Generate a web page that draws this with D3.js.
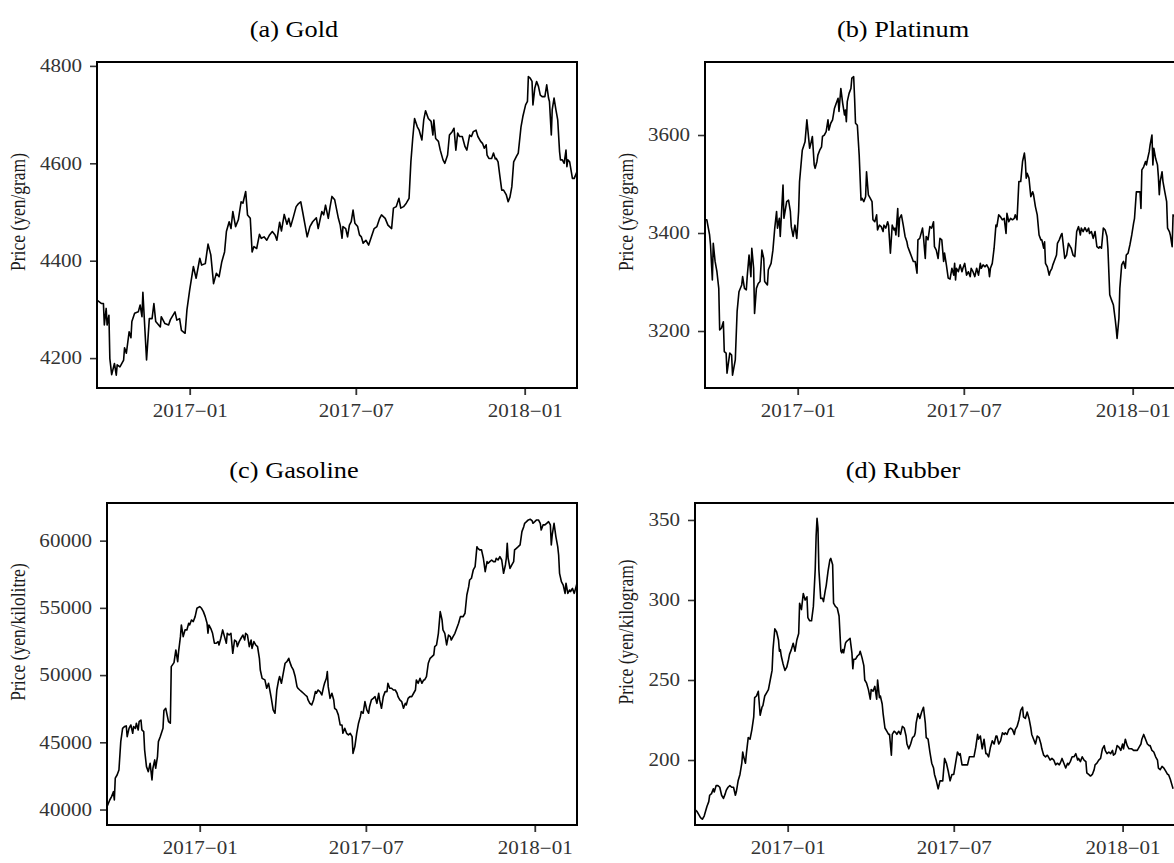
<!DOCTYPE html>
<html>
<head>
<meta charset="utf-8">
<script src="https://cdn.jsdelivr.net/npm/d3@7"></script>
<style>
  html, body { margin: 0; padding: 0; background: #fff; overflow: hidden; }
  svg { display: block; overflow: hidden; font-family: "Liberation Serif", "Times New Roman", Times, serif; }
</style>
</head>
<body>
<svg id="chart" width="1174" height="863"></svg>
<script>
// Daily closing prices, keyed by day offset from the first day of the window.
const startDate = Date.UTC(2016, 8, 22);   // 2016-09-22

const goldDays = [0,5,7,8,10,11,13,14,16,19,21,22,25,29,30,32,35,37,38,41,45,47,49,50,54,57,60,62,64,69,70,74,78,80,85,87,90,92,96,98,101,105,108,112,114,118,121,124,127,130,133,136,139,141,144,146,148,151,154,157,159,162,164,167,169,171,174,177,179,182,185,188,191,194,196,199,201,204,207,209,211,214,217,219,222,224,227,229,232,235,237,239,241,243,245,247,249,252,254,256,259,261,
  263,265,267,268,271,273,275,277,279,281,284,286,288,290,293,296,299,302,305,308,310,314,317,321,323,326,329,331,334,337,340,342,344,346,349,351,354,356,358,361,364,366,367,369,372,374,377,379,382,384,387,389,391,393,395,398,401,403,406,408,410,413,415,418,420,422,424,425,427,430,432,434,435,437,439,441,443,446,448,450,452,454,457,459,462,464,467,469,470,472,474,475,477,479,481,483,485,488,490,492,493,495,496,498,500,502,504,505,507,509,511,512,513,515,518,520,523];
const goldPrice = [4319,4312,4312,4268,4302,4268,4288,4199,4166,4189,4165,4186,4182,4196,4221,4210,4254,4242,4275,4292,4295,4309,4285,4335,4196,4281,4281,4312,4275,4264,4285,4271,4268,4279,4295,4278,4281,4257,4251,4299,4340,4388,4364,4405,4391,4394,4434,4412,4353,4374,4367,4398,4418,4460,4480,4466,4501,4470,4484,4521,4518,4542,4494,4487,4418,4429,4425,4454,4446,4449,4442,4453,4460,4453,4442,4479,4461,4495,4475,4487,4470,4490,4511,4516,4521,4501,4470,4449,4470,4480,4484,4488,4466,4484,4501,4494,4514,4487,4511,4532,4525,4506,
  4487,4473,4446,4470,4466,4449,4473,4480,4504,4477,4470,4453,4449,4436,4442,4432,4449,4466,4470,4487,4494,4487,4473,4466,4508,4511,4528,4508,4511,4518,4528,4603,4651,4692,4675,4668,4648,4689,4708,4692,4686,4658,4689,4651,4645,4627,4607,4600,4617,4658,4665,4672,4627,4662,4655,4655,4634,4627,4658,4655,4665,4668,4655,4645,4641,4631,4638,4617,4610,4610,4621,4609,4610,4603,4573,4545,4545,4535,4521,4531,4552,4603,4614,4621,4675,4696,4720,4727,4778,4775,4768,4720,4754,4768,4758,4740,4737,4737,4761,4734,4727,4658,4710,4734,4710,4689,4624,4607,4607,4600,4627,4593,4607,4603,4569,4569,4583];

const platinumDays = [0,2,5,6,8,9,11,13,15,16,18,20,21,23,24,27,29,30,33,35,37,40,41,43,45,46,48,50,51,53,54,56,58,60,62,64,65,68,69,72,74,76,78,79,81,82,85,86,89,91,93,94,96,98,100,102,103,106,109,111,114,115,117,119,120,122,123,125,127,128,130,132,134,135,137,139,141,143,145,146,148,150,152,153,154,155,157,159,160,162,163,164,166,168,170,171,173,175,176,178,180,182,183,185,187,188,190,192,194,195,197,199,200,202,204,206,207,208,210,211,212,214,216,218,220,221,223,225,227,229,231,232,234,237,238,240,241,243,
  245,247,249,250,252,254,256,258,260,261,263,265,267,269,271,272,273,274,276,278,280,281,283,285,287,289,290,292,294,296,298,300,301,303,305,307,309,310,311,313,315,317,318,320,322,324,326,328,329,331,333,335,337,338,340,342,344,346,348,349,350,351,353,355,357,358,360,362,364,366,367,369,370,371,373,375,376,378,379,381,383,384,386,388,389,390,392,394,396,398,399,401,403,405,407,409,410,412,414,416,418,419,421,423,425,427,429,430,432,434,436,438,439,441,443,445,447,448,449,451,452,454,456,458,459,461,463,465,467,468,470,472,474,475,476,478,480,481,482,484,485,487,488,489,491,493,494,495,496,498,499,501,503,504,506,507,509,510,511];
const platinumPrice = [3427,3427,3396,3376,3304,3379,3342,3321,3287,3202,3206,3219,3158,3155,3114,3155,3151,3110,3141,3240,3280,3294,3311,3287,3284,3311,3355,3311,3369,3328,3236,3287,3297,3301,3365,3348,3301,3294,3325,3338,3365,3410,3444,3410,3430,3393,3498,3430,3464,3467,3444,3413,3393,3416,3389,3444,3505,3569,3586,3631,3573,3580,3597,3539,3532,3546,3559,3569,3576,3597,3600,3607,3631,3610,3624,3631,3654,3665,3675,3648,3695,3665,3641,3651,3627,3668,3685,3695,3716,3719,3675,3624,3620,3559,3467,3471,3464,3474,3525,3478,3471,3464,3427,3423,3437,3406,3416,3413,3403,3416,3410,3423,3416,3359,3416,3406,3410,3396,3450,3393,3430,3437,3416,3393,3382,3372,3362,3352,3342,3342,3318,3386,3389,3410,3393,3348,3393,3386,
  3413,3410,3423,3372,3365,3348,3389,3386,3342,3359,3335,3308,3306,3328,3314,3338,3304,3328,3321,3335,3321,3328,3338,3314,3321,3311,3328,3321,3311,3328,3314,3338,3328,3335,3331,3335,3328,3311,3328,3338,3369,3416,3413,3437,3433,3427,3430,3399,3440,3423,3430,3427,3430,3437,3427,3505,3505,3546,3563,3546,3512,3522,3512,3474,3484,3478,3454,3437,3396,3386,3386,3369,3382,3338,3331,3314,3321,3328,3335,3345,3355,3379,3386,3396,3399,3382,3348,3355,3379,3372,3369,3355,3352,3403,3413,3396,3410,3403,3411,3403,3410,3399,3403,3389,3403,3372,3369,3372,3369,3410,3406,3393,3369,3274,3263,3253,3223,3206,3185,3226,3287,3335,3342,3328,3355,3359,3376,3396,3420,3430,3484,3484,3484,3450,3529,3535,3546,3539,3549,3566,3580,3600,3539,3573,3552,3539,3515,3478,3505,3525,3505,3484,3464,3410,3403,3396,3372,3437,3433];

const gasolineDays = [0,3,5,7,8,9,11,13,15,17,19,21,22,24,26,28,29,31,32,34,35,37,38,40,41,43,45,47,49,50,52,53,55,56,58,61,62,64,67,69,70,73,75,77,78,80,81,83,85,87,89,90,92,94,96,98,101,103,105,107,109,110,111,113,115,117,119,121,122,124,126,128,130,131,133,135,137,139,141,142,144,146,148,150,151,153,155,157,158,160,162,164,166,167,169,172,174,176,178,179,181,183,185,187,188,190,192,194,196,198,199,201,203,205,207,208,210,212,214,216,218,219,221,223,225,227,228,230,232,234,236,237,239,240,241,243,245,247,248,250,252,254,
  256,257,259,261,263,265,267,268,270,272,274,276,277,279,281,283,285,286,288,290,292,294,296,297,299,301,303,305,306,308,310,312,314,316,317,319,321,323,325,326,328,330,332,334,336,337,339,341,343,345,346,348,350,352,354,356,357,359,361,363,365,366,368,370,372,374,375,377,379,381,383,385,386,388,390,392,394,395,397,399,401,403,404,406,408,410,412,414,415,417,419,421,423,424,426,428,430,432,434,435,436,437,439,441,443,444,446,448,450,452,454,455,457,459,461,463,464,466,468,470,472,473,475,477,479,481,483,484,485,487,489,491,492,493,495,497,499,500,502,504,505,507,509,511,512];
const gasolinePrice = [40220,40710,40960,41330,40710,42330,42570,42940,45050,46040,46170,46220,45420,46040,46290,45670,46170,46040,46420,45920,46540,46660,45920,45800,44430,43190,42820,43440,42200,43070,43690,43070,43940,45050,45420,46040,47360,47530,46540,46420,50630,50930,51870,51000,51750,52860,53730,52860,53360,53360,53850,53730,54100,53980,54350,54970,55090,54970,54720,54350,53850,53110,53730,53480,53110,52370,52370,52490,52240,52740,53360,52860,52370,53110,52980,53110,51620,52610,52490,52120,52490,52740,52980,52610,53110,52980,52120,52610,51990,52490,52240,52120,51250,50380,49760,49640,49020,49390,48650,48270,47410,47160,48890,49640,49890,49390,50130,50880,51000,51250,51000,50630,50380,49890,49140,49020,48890,48770,48650,48520,48400,48150,47900,47780,48150,48770,48650,48890,48770,48520,49140,49390,49760,50260,49140,48270,48650,48150,47530,47410,47040,46290,
  46290,45670,46040,45670,45550,45670,45420,44180,44680,45670,46420,46910,47280,47160,48030,47410,47160,47650,48150,48270,48400,47900,48650,48150,47530,48400,48770,48770,49390,49020,49020,48890,48890,48650,48400,48150,48030,47530,47900,47780,48270,48400,48400,48650,48890,49640,49390,49760,49390,49640,49640,49890,50880,51250,51370,51500,52120,52240,53110,54720,54100,53360,53110,52240,52980,52860,52610,52860,53110,53480,53850,54350,54350,54350,54600,55960,56580,57070,57200,57820,58070,59550,59430,59310,59310,58690,57690,58440,58310,58440,58560,58440,58440,58690,58560,58810,58560,57570,58190,58690,59800,58690,57940,58190,58440,59310,59430,59550,59680,60670,61040,61290,61410,61540,61590,61490,61290,61410,61540,61540,61290,60790,61170,61170,61290,61410,61170,59680,60420,61290,60300,59550,58930,57570,56950,56700,56080,56830,56080,56330,56210,56450,56080,56580,56830];

const rubberDays = [0,2,4,6,8,10,13,15,16,18,20,21,23,25,27,29,31,33,34,36,38,40,42,44,45,47,49,51,52,53,55,56,58,60,62,64,65,67,69,71,73,74,76,78,80,82,84,85,87,89,91,92,93,94,96,98,100,102,103,105,107,109,111,113,114,116,118,120,122,123,125,127,129,131,132,133,134,135,137,139,140,142,143,145,147,148,150,151,153,155,157,159,160,161,162,164,165,167,169,171,172,173,175,177,179,180,182,184,185,187,189,191,192,194,196,198,199,201,202,204,205,207,209,211,212,214,215,217,219,220,222,224,226,228,230,231,233,235,237,239,240,241,243,245,247,249,251,252,254,256,258,260,261,263,265,
  267,270,272,274,276,278,280,282,284,286,288,289,291,294,297,299,301,304,306,308,309,311,313,315,317,318,320,322,324,326,328,329,331,333,335,337,338,340,342,344,346,348,349,351,353,355,357,358,360,362,364,366,367,369,371,373,375,377,378,380,382,384,386,387,389,391,393,395,397,398,400,402,404,406,407,409,411,413,415,417,418,420,422,424,426,427,429,431,433,435,436,438,440,442,444,446,447,449,451,453,455,456,458,460,462,464,466,467,469,471,473,475,476,478,480,482,484,486,487,489,491,493,495,496,498,500,502,504,505,507,509,511,513,515,516,518,520,521];
const rubberPrice = [169,168,166,164,163,165,171,174,178,179,182,180,184,184,183,178,176,179,181,183,184,183,183,178,180,187,191,198,205,202,198,204,214,213,219,227,239,240,243,228,233,234,240,242,244,250,256,269,282,280,275,268,269,265,260,256,258,263,266,269,273,268,275,279,298,294,304,300,302,289,287,287,296,319,340,351,345,319,301,301,299,306,309,318,325,326,322,298,296,295,290,268,267,269,267,273,274,275,276,267,257,263,263,265,266,268,264,259,250,248,244,238,244,243,246,238,250,239,240,235,229,220,218,216,216,203,216,218,217,216,218,216,221,220,215,210,207,210,214,215,217,223,229,226,230,233,223,214,213,205,198,195,191,187,182,
  187,187,201,198,193,187,191,191,198,205,203,204,197,197,197,202,202,202,208,216,213,215,207,213,204,204,202,208,212,210,215,215,210,212,217,216,217,216,219,220,219,216,219,221,225,231,233,227,226,230,226,220,216,213,210,215,214,210,207,203,202,203,201,200,201,200,197,198,197,198,201,198,195,198,197,199,202,202,204,200,201,199,202,200,199,192,191,190,191,194,197,198,200,201,207,209,206,204,205,204,206,203,204,209,208,206,210,207,213,209,207,207,207,206,206,206,208,210,213,216,213,210,209,209,206,205,202,200,195,194,196,195,193,191,191,188,184,182];

// Axis tick labels
const goldTicks = [4200, 4400, 4600, 4800];
const platinumTicks = [3200, 3400, 3600];
const gasolineTicks = [40000, 45000, 50000, 55000, 60000];
const rubberTicks = [200, 250, 300, 350];
const dateTicks = ["2017-01-01", "2017-07-01", "2018-01-01"];

const titles = ["(a) Gold", "(b) Platinum", "(c) Gasoline", "(d) Rubber"];
const yLabels = ["Price (yen/gram)", "Price (yen/gram)", "Price (yen/kilolitre)", "Price (yen/kilogram)"];

// Panel layout: plotting box, visible value range and date span (days) of each frame.
const panels = [
  { title: titles[0], ylab: yLabels[0], days: goldDays, values: goldPrice, ticks: goldTicks,
    yDomain: [4138.6, 4808], span: 523, box: { l: 97, r: 577, t: 62, b: 388 }, col: 0, row: 0 },
  { title: titles[1], ylab: yLabels[1], days: platinumDays, values: platinumPrice, ticks: platinumTicks,
    yDomain: [3083.7, 3749], span: 523, box: { l: 705, r: 1185, t: 62, b: 388 }, col: 1, row: 0 },
  { title: titles[2], ylab: yLabels[2], days: gasolineDays, values: gasolinePrice, ticks: gasolineTicks,
    yDomain: [38850, 62800], span: 512, box: { l: 107, r: 577, t: 503, b: 825 }, col: 0, row: 1 },
  { title: titles[3], ylab: yLabels[3], days: rubberDays, values: rubberPrice, ticks: rubberTicks,
    yDomain: [159.4, 360.6], span: 534, box: { l: 695, r: 1185, t: 503, b: 825 }, col: 1, row: 1 }
];

const WIDEN = 1.17;             // horizontal stretch of the lettering
const colCenter = [294, 903];   // title centre of each column
const labelX = [25, 633];       // baseline of rotated y-axis titles
const labelY = [212, 632];      // centre of rotated y-axis titles
const titleY = [37, 478];       // title baseline of each row
const TICK = 7, PAD_Y = 8, PAD_X = 9;

const DAY = 86400000;
const svg = d3.select("#chart");
const toDate = d => new Date(startDate + d * DAY);
const fmt = d3.utcFormat("%Y\u2212%m");

panels.forEach(p => {
  const b = p.box;
  const x = d3.scaleUtc().domain([toDate(0), toDate(p.span)]).range([b.l, b.r]);
  const y = d3.scaleLinear().domain(p.yDomain).range([b.b, b.t]);
  const g = svg.append("g");

  const pts = p.days.map((d, i) => ({ date: toDate(d), v: p.values[i] }));

  // y axis
  const ya = g.append("g").attr("transform", `translate(${b.l},0)`)
    .call(d3.axisLeft(y).tickValues(p.ticks).tickFormat(d3.format("d")).tickSize(TICK).tickPadding(PAD_Y));
  ya.select(".domain").remove();
  ya.selectAll(".tick line").attr("stroke", "#333").attr("stroke-width", 1.6);
  ya.selectAll(".tick text")
    .attr("x", 0)
    .attr("transform", `translate(${-(TICK + PAD_Y)},0) scale(${WIDEN},1)`)
    .attr("fill", "#333").attr("font-size", 18)
    .attr("font-family", "Liberation Serif, Times New Roman, serif");

  // x axis
  const xa = g.append("g").attr("transform", `translate(0,${b.b})`)
    .call(d3.axisBottom(x).tickValues(dateTicks.map(s => new Date(s + "T00:00:00Z")))
      .tickFormat(fmt).tickSize(TICK).tickPadding(PAD_X));
  xa.select(".domain").remove();
  xa.selectAll(".tick line").attr("stroke", "#333").attr("stroke-width", 1.8);
  xa.selectAll(".tick text")
    .attr("y", 0)
    .attr("transform", `translate(0,${TICK + PAD_X}) scale(${WIDEN},1)`)
    .attr("fill", "#333").attr("font-size", 18)
    .attr("font-family", "Liberation Serif, Times New Roman, serif");

  // price line
  const line = d3.line().x(d => x(d.date)).y(d => y(d.v));
  g.append("path").datum(pts)
    .attr("d", line)
    .attr("fill", "none")
    .attr("stroke", "#000")
    .attr("stroke-width", 1.6)
    .attr("stroke-linejoin", "round");

  // frame
  g.append("rect")
    .attr("x", b.l).attr("y", b.t)
    .attr("width", b.r - b.l).attr("height", b.b - b.t)
    .attr("fill", "none").attr("stroke", "#000").attr("stroke-width", 2);

  // panel title
  svg.append("text")
    .attr("transform", `translate(${colCenter[p.col]},${titleY[p.row]}) scale(${WIDEN},1)`)
    .attr("text-anchor", "middle")
    .attr("font-size", 22.5)
    .attr("fill", "#000")
    .text(p.title);

  // y-axis title
  svg.append("text")
    .attr("transform", `translate(${labelX[p.col]},${labelY[p.row]}) scale(${WIDEN},1) rotate(-90)`)
    .attr("text-anchor", "middle")
    .attr("font-size", 17.5)
    .attr("fill", "#1a1a1a")
    .text(p.ylab);
});
</script>
</body>
</html>
